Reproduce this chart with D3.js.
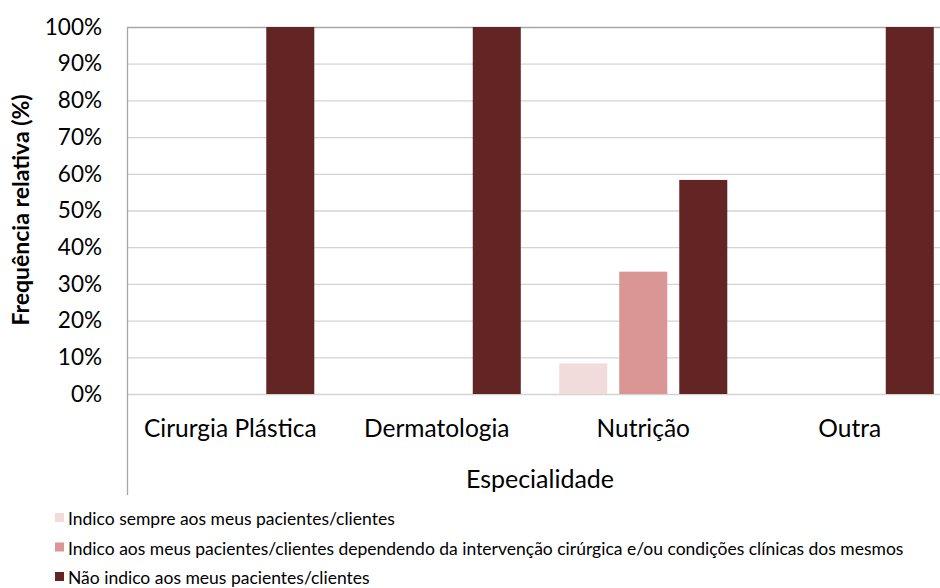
<!DOCTYPE html>
<html>
<head>
<meta charset="utf-8">
<script src="https://cdn.jsdelivr.net/npm/d3@7"></script>
<style>
  html, body { margin: 0; padding: 0; background: #fff; overflow: hidden; }
  svg { display: block; font-family: Lato, "Open Sans", sans-serif; }
</style>
</head>
<body>
<svg id="chart" width="940" height="588"></svg>
<script>
// Especialidades e respostas (frequência relativa)
const categories = ["Cirurgia Plástica", "Dermatologia", "Nutrição", "Outra"];
const seriesNames = [
  "Indico sempre aos meus pacientes/clientes",
  "Indico aos meus pacientes/clientes dependendo da intervenção cirúrgica e/ou condições clínicas dos mesmos",
  "Não indico aos meus pacientes/clientes"
];
const sempre      = [0, 0, 8.33, 0];
const dependendo  = [0, 0, 33.33, 0];
const naoIndico   = [100, 100, 58.33, 100];
const seriesColors = ["#f2dcdb", "#d99694", "#632523"];
const yTicks = [0, 10, 20, 30, 40, 50, 60, 70, 80, 90, 100];

const seriesValues = [sempre, dependendo, naoIndico];

const svg = d3.select("#chart");
const plot = { left: 127, top: 27, bottom: 394, right: 953 };

const x = d3.scaleBand().domain(categories).range([plot.left, plot.right]).paddingInner(0).paddingOuter(0);
const xs = d3.scaleBand().domain(d3.range(seriesNames.length)).range([0, x.bandwidth()])
  .paddingInner(0.2).paddingOuter(0.32);
const y = d3.scaleLinear().domain([0, 100]).range([plot.bottom, plot.top]);

// grid lines
svg.append("g").selectAll("line").data(yTicks).join("line")
  .attr("x1", plot.left).attr("x2", plot.right)
  .attr("y1", d => y(d) + 0.5).attr("y2", d => y(d) + 0.5)
  .attr("stroke", d => d === 100 ? "#a6a6a6" : "#d4d4d4")
  .attr("stroke-width", d => d === 100 ? 1.5 : 1.3);

// bars
const groups = svg.append("g").selectAll("g").data(categories).join("g")
  .attr("transform", d => `translate(${x(d)},0)`);
groups.selectAll("rect")
  .data((c, ci) => seriesValues.map((vals, si) => ({ si, v: vals[ci] })))
  .join("rect")
  .filter(d => d.v > 0)
  .attr("x", d => xs(d.si))
  .attr("width", xs.bandwidth())
  .attr("y", d => y(d.v))
  .attr("height", d => y(0) - y(d.v))
  .attr("fill", d => seriesColors[d.si]);

// y axis
const yAxis = d3.axisLeft(y).tickValues(yTicks).tickFormat(d => d + "%").tickSize(0).tickPadding(25);
const gy = svg.append("g").attr("transform", `translate(${plot.left},0)`).call(yAxis);
gy.select(".domain").remove();
gy.selectAll("text").attr("font-size", 22.5).attr("fill", "#000").attr("font-family", "Lato, sans-serif");

// left axis line, extended through the category area
svg.append("line").attr("x1", plot.left + 0.5).attr("x2", plot.left + 0.5)
  .attr("y1", plot.top).attr("y2", 495).attr("stroke", "#a6a6a6").attr("stroke-width", 1.3);

// x axis labels
const xAxis = d3.axisBottom(x).tickSize(0).tickPadding(26);
const gx = svg.append("g").attr("transform", `translate(0,${plot.bottom})`).call(xAxis);
gx.select(".domain").remove();
gx.selectAll("text").attr("font-size", 24.5).attr("fill", "#000").attr("font-family", "Lato, sans-serif");

// axis titles
svg.append("text").attr("x", 540).attr("y", 488).attr("text-anchor", "middle")
  .attr("font-size", 25).text("Especialidade");
svg.append("text").attr("transform", "translate(29,210) rotate(-90)").attr("text-anchor", "middle")
  .attr("font-size", 23).attr("font-weight", "bold").text("Frequência relativa (%)");

// legend
const leg = svg.append("g").selectAll("g").data(seriesNames).join("g")
  .attr("transform", (d, i) => `translate(55,${519 + i * 29.5})`);
leg.append("rect").attr("x", 0).attr("y", -6).attr("width", 9).attr("height", 9)
  .attr("fill", (d, i) => seriesColors[i]);
leg.append("text").attr("x", 13).attr("y", 0).attr("dy", "0.35em")
  .attr("font-size", 17.5).attr("fill", "#000").text(d => d);
</script>
</body>
</html>
